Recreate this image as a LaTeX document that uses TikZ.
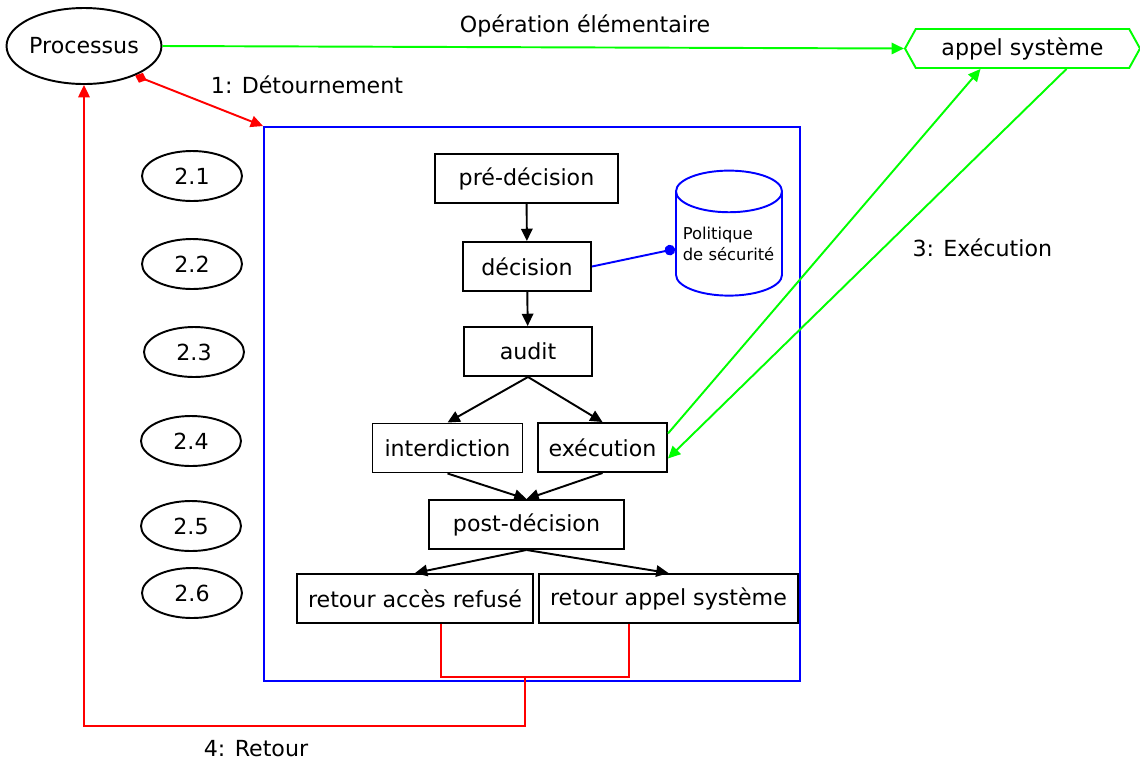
\documentclass[tikz,border=0pt]{standalone}
\usepackage{fontspec}
\setmainfont{DejaVu Sans}
\usetikzlibrary{arrows.meta,shapes.geometric,shapes.symbols}

\begin{document}
\begin{tikzpicture}[
    font=\fontsize{12.6}{15}\selectfont,
    line width=1.1pt,
    stepbox/.style={draw, rectangle, inner sep=0pt, minimum height=0.98cm},
    subcall/.style={draw, ellipse, inner sep=0pt, minimum width=2cm, minimum height=1cm},
    tip/.style={-{Triangle[length=7pt,width=6.5pt]}}
  ]
    \useasboundingbox (0,0) rectangle (22.8,-15.2);

    % Process and system call
    \node[draw, ellipse, inner sep=0pt, minimum width=3.04cm, minimum height=1.52cm] (proc) at (1.68,-0.92) {Processus};
    \node[draw=green, signal, signal to=west and east, signal pointer angle=122,
          inner sep=0pt, minimum width=4.7cm, minimum height=0.78cm] (sys) at (20.45,-0.97) {appel système};

    % Hook frame
    \node[draw=blue, rectangle, minimum width=10.72cm, minimum height=11.08cm] (frame) at (10.64,-8.08) {};

    % Sub-steps
    \node[subcall] (s1) at (3.84,-3.52) {2.1};
    \node[subcall] (s2) at (3.84,-5.28) {2.2};
    \node[subcall] (s3) at (3.88,-7.04) {2.3};
    \node[subcall] (s4) at (3.82,-8.82) {2.4};
    \node[subcall] (s5) at (3.82,-10.52) {2.5};
    \node[subcall] (s6) at (3.84,-11.86) {2.6};

    % Decision chain
    \node[stepbox, minimum width=3.66cm] (pre) at (10.53,-3.57) {pré-décision};
    \node[stepbox, minimum width=2.56cm] (dec) at (10.54,-5.33) {décision};
    \node[stepbox, minimum width=2.56cm] (audit) at (10.56,-7.03) {audit};
    \node[stepbox, minimum width=3cm] (deny) at (8.95,-8.96) {interdiction};
    \node[stepbox, minimum width=2.58cm] (exec) at (12.05,-8.95) {exécution};
    \node[stepbox, minimum width=3.9cm] (post) at (10.53,-10.49) {post-décision};
    \node[stepbox, minimum width=4.72cm] (refuse) at (8.3,-11.97) {retour accès refusé};
    \node[stepbox, minimum width=5.18cm] (ret) at (13.37,-11.97) {retour appel système};

    % Security policy
    \node[draw=blue, cylinder, shape border rotate=90, aspect=0.45, inner sep=0pt,
          minimum width=2.12cm, minimum height=2.5cm, text width=1.85cm, align=left,
          font=\fontsize{9.3}{12}\selectfont] (pol) at (14.58,-4.88) {Politique\\de sécurité};

    % Connect steps
    \draw[tip] (pre) -- (dec);
    \draw[tip] (dec) -- (audit);
    \draw[tip] (audit.south) -- (deny.north);
    \draw[tip] (audit.south) -- (exec.north);
    \draw[tip] (deny.south) -- (post.north);
    \draw[tip] (exec.south) -- (post.north);
    \draw[tip] (post.south) -- (refuse.north);
    \draw[tip] (post.south) -- (ret.north);
    \draw[blue, -{Circle[length=6pt]}] (dec.east) -- ([yshift=-0.1cm]pol.west);

    % Outer connections
    \draw[green, tip] (proc.east) -- node[pos=0.57, above, black, yshift=0.08cm] {Opération élémentaire} (sys.west);
    \draw[red, {Diamond[length=7pt,width=6pt]}-{Triangle[length=7pt,width=6.5pt]}] (proc.-30) -- node[midway, anchor=south west, black, xshift=0.1cm] {1: Détournement} (frame.north west);
    \draw[green, tip] ([yshift=0.28cm]exec.east) -- ([xshift=-0.84cm]sys.south);
    \draw[green, tip] ([xshift=0.88cm]sys.south) -- node[pos=0.46, anchor=west, black, xshift=0.45cm] {3: Exécution} ([yshift=-0.22cm]exec.east);

    % Return path
    \coordinate (join) at (10.5,-13.54);
    \draw[red] ([xshift=0.52cm]refuse.south) |- (join) -| ([xshift=-0.79cm]ret.south);
    \draw[red, tip] (join) -- ++(0,-0.98) -| node[pos=0.305, below, black, yshift=-0.16cm] {4: Retour} (proc.south);
\end{tikzpicture}
\end{document}
